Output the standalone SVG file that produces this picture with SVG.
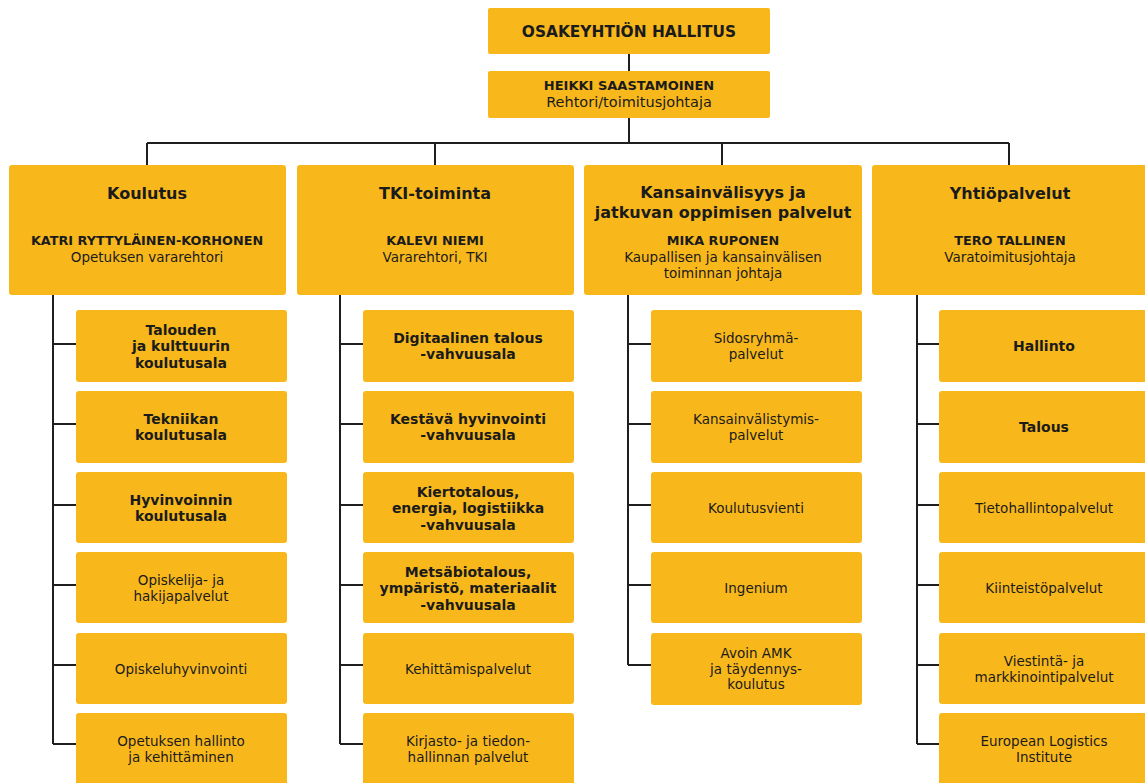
<svg xmlns="http://www.w3.org/2000/svg" width="1145" height="783" viewBox="0 0 1145 783">
<style>
.box{fill:#F8B81C}
.ln{stroke:#1e1e1e;stroke-width:2;fill:none}
text{font-family:"DejaVu Sans","Open Sans",sans-serif;fill:#1b1b1b;text-anchor:middle}
.t0{font-size:15.4px;font-weight:700}
.nm{font-size:13px;font-weight:700}
.ti{font-size:14.5px}
.h{font-size:16px;font-weight:700}
.hn{font-size:12.8px;font-weight:700}
.ht{font-size:13.5px}
.b{font-size:14px;font-weight:700}
.r{font-size:13.5px}
</style>
<rect width="1145" height="783" fill="#ffffff"/>
<g id="connectors">
<path class="ln" d="M629 54V71M629 118V143M147 143H1009M147 143V165M435 143V165M722 143V165M1009 143V165"/>
<path class="ln" d="M53 295V744M53 344H76M53 424H76M53 505H76M53 585H76M53 665H76M53 744H76"/>
<path class="ln" d="M340 295V744M340 344H363M340 424H363M340 505H363M340 585H363M340 665H363M340 744H363"/>
<path class="ln" d="M628 295V665M628 344H651M628 424H651M628 505H651M628 585H651M628 665H651"/>
<path class="ln" d="M917 295V744M917 344H939M917 424H939M917 505H939M917 585H939M917 665H939M917 744H939"/>
</g>
<g id="board"><rect class="box" x="488" y="8" width="282" height="46" rx="2"/><text class="t0" x="629" y="37">OSAKEYHTIÖN HALLITUS</text></g>
<g id="ceo"><rect class="box" x="488" y="71" width="282" height="47" rx="2"/><text class="nm" x="629" y="90">HEIKKI SAASTAMOINEN</text><text class="ti" x="629" y="107">Rehtori/toimitusjohtaja</text></g>

<g id="h1"><rect class="box" x="9" y="165" width="277" height="130" rx="3"/><text class="h" x="147" y="199">Koulutus</text><text class="hn" x="147" y="245">KATRI RYTTYLÄINEN-KORHONEN</text><text class="ht" x="147" y="262">Opetuksen vararehtori</text></g>
<g id="h2"><rect class="box" x="297" y="165" width="277" height="130" rx="3"/><text class="h" x="435" y="199">TKI-toiminta</text><text class="hn" x="435" y="245">KALEVI NIEMI</text><text class="ht" x="435" y="262">Vararehtori, TKI</text></g>
<g id="h3"><rect class="box" x="584" y="165" width="278" height="130" rx="3"/><text class="h" x="723" y="198">Kansainvälisyys ja</text><text class="h" x="723" y="217.5">jatkuvan oppimisen palvelut</text><text class="hn" x="723" y="245">MIKA RUPONEN</text><text class="ht" x="723" y="262">Kaupallisen ja kansainvälisen</text><text class="ht" x="723" y="277.7">toiminnan johtaja</text></g>
<g id="h4"><rect class="box" x="872" y="165" width="280" height="130" rx="3"/><text class="h" x="1010" y="199">Yhtiöpalvelut</text><text class="hn" x="1010" y="245">TERO TALLINEN</text><text class="ht" x="1010" y="262">Varatoimitusjohtaja</text></g>

<g id="c1n1"><rect class="box" x="76" y="310" width="211" height="72" rx="3"/><text class="b" x="181" y="335">Talouden</text><text class="b" x="181" y="351.3">ja kulttuurin</text><text class="b" x="181" y="367.6">koulutusala</text></g>
<g id="c1n2"><rect class="box" x="76" y="391" width="211" height="72" rx="3"/><text class="b" x="181" y="424">Tekniikan</text><text class="b" x="181" y="440.3">koulutusala</text></g>
<g id="c1n3"><rect class="box" x="76" y="472" width="211" height="71" rx="3"/><text class="b" x="181" y="505">Hyvinvoinnin</text><text class="b" x="181" y="521.3">koulutusala</text></g>
<g id="c1n4"><rect class="box" x="76" y="552" width="211" height="71" rx="3"/><text class="r" x="181" y="585">Opiskelija- ja</text><text class="r" x="181" y="600.7">hakijapalvelut</text></g>
<g id="c1n5"><rect class="box" x="76" y="633" width="211" height="71" rx="3"/><text class="r" x="181" y="674">Opiskeluhyvinvointi</text></g>
<g id="c1n6"><rect class="box" x="76" y="713" width="211" height="72" rx="3"/><text class="r" x="181" y="746">Opetuksen hallinto</text><text class="r" x="181" y="761.7">ja kehittäminen</text></g>

<g id="c2n1"><rect class="box" x="363" y="310" width="211" height="72" rx="3"/><text class="b" x="468" y="343">Digitaalinen talous</text><text class="b" x="468" y="359.3">-vahvuusala</text></g>
<g id="c2n2"><rect class="box" x="363" y="391" width="211" height="72" rx="3"/><text class="b" x="468" y="424">Kestävä hyvinvointi</text><text class="b" x="468" y="440.3">-vahvuusala</text></g>
<g id="c2n3"><rect class="box" x="363" y="472" width="211" height="71" rx="3"/><text class="b" x="468" y="497">Kiertotalous,</text><text class="b" x="468" y="513.3">energia, logistiikka</text><text class="b" x="468" y="529.6">-vahvuusala</text></g>
<g id="c2n4"><rect class="box" x="363" y="552" width="211" height="71" rx="3"/><text class="b" x="468" y="577">Metsäbiotalous,</text><text class="b" x="468" y="593.3">ympäristö, materiaalit</text><text class="b" x="468" y="609.6">-vahvuusala</text></g>
<g id="c2n5"><rect class="box" x="363" y="633" width="211" height="71" rx="3"/><text class="r" x="468" y="674">Kehittämispalvelut</text></g>
<g id="c2n6"><rect class="box" x="363" y="713" width="211" height="72" rx="3"/><text class="r" x="468" y="746">Kirjasto- ja tiedon-</text><text class="r" x="468" y="761.7">hallinnan palvelut</text></g>

<g id="c3n1"><rect class="box" x="651" y="310" width="211" height="72" rx="3"/><text class="r" x="756" y="343">Sidosryhmä-</text><text class="r" x="756" y="358.7">palvelut</text></g>
<g id="c3n2"><rect class="box" x="651" y="391" width="211" height="72" rx="3"/><text class="r" x="756" y="424">Kansainvälistymis-</text><text class="r" x="756" y="439.7">palvelut</text></g>
<g id="c3n3"><rect class="box" x="651" y="472" width="211" height="71" rx="3"/><text class="r" x="756" y="513">Koulutusvienti</text></g>
<g id="c3n4"><rect class="box" x="651" y="552" width="211" height="71" rx="3"/><text class="r" x="756" y="593">Ingenium</text></g>
<g id="c3n5"><rect class="box" x="651" y="633" width="211" height="72" rx="3"/><text class="r" x="756" y="658">Avoin AMK</text><text class="r" x="756" y="673.7">ja täydennys-</text><text class="r" x="756" y="689.4">koulutus</text></g>

<g id="c4n1"><rect class="box" x="939" y="310" width="211" height="72" rx="3"/><text class="b" x="1044" y="351">Hallinto</text></g>
<g id="c4n2"><rect class="box" x="939" y="391" width="211" height="72" rx="3"/><text class="b" x="1044" y="432">Talous</text></g>
<g id="c4n3"><rect class="box" x="939" y="472" width="211" height="71" rx="3"/><text class="r" x="1044" y="513">Tietohallintopalvelut</text></g>
<g id="c4n4"><rect class="box" x="939" y="552" width="211" height="71" rx="3"/><text class="r" x="1044" y="593">Kiinteistöpalvelut</text></g>
<g id="c4n5"><rect class="box" x="939" y="633" width="211" height="71" rx="3"/><text class="r" x="1044" y="666">Viestintä- ja</text><text class="r" x="1044" y="681.7">markkinointipalvelut</text></g>
<g id="c4n6"><rect class="box" x="939" y="713" width="211" height="72" rx="3"/><text class="r" x="1044" y="746">European Logistics</text><text class="r" x="1044" y="761.7">Institute</text></g>
</svg>
